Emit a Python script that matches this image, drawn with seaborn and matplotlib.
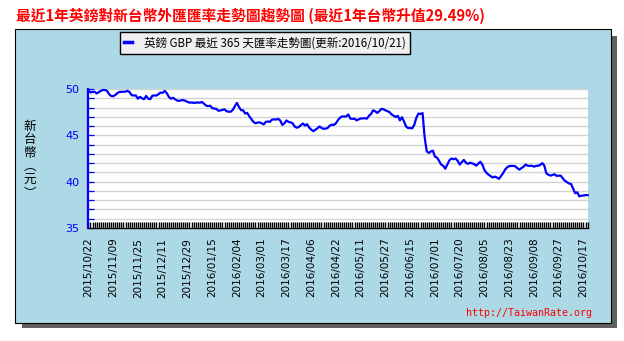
import matplotlib
matplotlib.use("Agg")
import matplotlib.pyplot as plt
from matplotlib.patches import Rectangle
from matplotlib.ticker import FixedLocator
from matplotlib.font_manager import FontProperties
import pandas as pd
import seaborn as sns

# ---- chart text ----
title = "最近1年英鎊對新台幣外匯匯率走勢圖趨勢圖 (最近1年台幣升值29.49%)"
legend_label = "英鎊 GBP 最近 365 天匯率走勢圖(更新:2016/10/21)"
y_title = "新\n台\n幣\n︵\n元\n︶"
site = "http://TaiwanRate.org"

# ---- x axis: one label every 12 trading days ----
date_labels = [
    "2015/10/22", "2015/11/09", "2015/11/25", "2015/12/11", "2015/12/29",
    "2016/01/15", "2016/02/04", "2016/03/01", "2016/03/17", "2016/04/06",
    "2016/04/22", "2016/05/11", "2016/05/27", "2016/06/15", "2016/07/01",
    "2016/07/20", "2016/08/05", "2016/08/23", "2016/09/08", "2016/09/27",
    "2016/10/17",
]
label_step = 12

# ---- y axis ----
y_major = [35, 40, 45, 50]
y_minor = list(range(35, 51))

# ---- GBP/TWD daily rate ----
rates = [
    49.90, 49.62, 49.68, 49.70, 49.52, 49.65, 49.80, 49.90, 49.88, 49.82,
    49.45, 49.25, 49.22, 49.35, 49.55, 49.68, 49.70, 49.70, 49.72, 49.80,
    49.65, 49.32, 49.30, 49.30, 48.95, 49.15, 49.00, 48.90, 49.25, 48.95,
    48.90, 49.28, 49.30, 49.30, 49.45, 49.62, 49.58, 49.80, 49.55, 49.15,
    48.95, 49.05, 48.90, 48.75, 48.72, 48.78, 48.80, 48.72, 48.62, 48.52,
    48.55, 48.50, 48.52, 48.55, 48.52, 48.60, 48.42, 48.22, 48.15, 48.20,
    47.95, 47.88, 47.85, 47.65, 47.68, 47.75, 47.80, 47.60, 47.55, 47.55,
    47.75, 48.15, 48.50, 48.05, 47.72, 47.70, 47.35, 47.42, 47.05, 46.75,
    46.45, 46.30, 46.38, 46.40, 46.30, 46.18, 46.45, 46.50, 46.45, 46.70,
    46.72, 46.70, 46.78, 46.60, 46.12, 46.30, 46.60, 46.45, 46.40, 46.30,
    45.95, 45.82, 45.90, 46.10, 46.28, 46.05, 46.20, 45.85, 45.62, 45.45,
    45.60, 45.75, 45.95, 45.80, 45.70, 45.72, 45.80, 46.05, 46.15, 46.12,
    46.30, 46.65, 46.90, 47.05, 47.02, 47.05, 47.25, 46.80, 46.78, 46.80,
    46.62, 46.72, 46.82, 46.82, 46.85, 46.80, 47.10, 47.30, 47.70, 47.60,
    47.42, 47.60, 47.85, 47.82, 47.70, 47.60, 47.50, 47.25, 47.12, 46.98,
    47.10, 46.62, 46.95, 46.50, 45.95, 45.78, 45.80, 45.75, 46.15, 46.90,
    47.35, 47.30, 47.40, 44.80, 43.30, 43.10, 43.25, 43.35, 42.70, 42.60,
    42.25, 41.85, 41.72, 41.40, 41.85, 42.30, 42.50, 42.42, 42.50, 42.25,
    41.85, 42.10, 42.35, 42.05, 41.92, 42.05, 41.98, 41.90, 41.72, 41.95,
    42.15, 41.85, 41.25, 40.95, 40.75, 40.60, 40.45, 40.55, 40.45, 40.30,
    40.60, 40.90, 41.30, 41.55, 41.68, 41.70, 41.70, 41.65, 41.45, 41.30,
    41.48, 41.62, 41.85, 41.72, 41.70, 41.72, 41.62, 41.70, 41.72, 41.80,
    42.00, 41.75, 40.90, 40.75, 40.65, 40.72, 40.80, 40.62, 40.65, 40.65,
    40.35, 40.10, 39.95, 39.80, 39.75, 39.25, 38.75, 38.85, 38.42, 38.48,
    38.50, 38.55, 38.55,
]

df = pd.DataFrame({"day": range(len(rates)), "rate": rates})

CJK = ["Noto Sans CJK TC", "DejaVu Sans"]
W, H = 624, 341


def fig_rect(x0, y0, x1, y1):
    """Pixel box (top-left origin) -> figure-fraction rectangle args."""
    return (x0 / W, 1 - y1 / H), (x1 - x0) / W, (y1 - y0) / H


fig = plt.figure(figsize=(W / 100, H / 100), dpi=100)
fig.patch.set_facecolor("white")

# drop shadow and light-blue panel, kept behind the axes
xy, w, h = fig_rect(22, 36, 617, 328)
fig.patches.append(Rectangle(xy, w, h, transform=fig.transFigure,
                             facecolor="#606060", edgecolor="none", zorder=-2))
xy, w, h = fig_rect(15, 29, 611, 323)
fig.patches.append(Rectangle(xy, w, h, transform=fig.transFigure,
                             facecolor="#ADD8E6", edgecolor="black",
                             linewidth=0.8, zorder=-1))

ax = fig.add_axes([88 / W, 1 - 228 / H, 500 / W, 139 / H])
ax.set_zorder(1)
ax.set_facecolor("white")

sns.lineplot(data=df, x="day", y="rate", ax=ax, color="#0000FF",
             linewidth=1.6, label=legend_label, clip_on=False, zorder=3)

# y axis
ax.set_ylim(y_major[0], y_major[-1])
ax.set_yticks(y_major)
ax.yaxis.set_minor_locator(FixedLocator(y_minor))
ax.grid(axis="y", which="both", color="#D3D3D3", linewidth=1.0)
ax.tick_params(axis="y", which="both", direction="in", length=4, width=0.9,
               color="#0000FF", labelcolor="#0000FF", labelsize=8, pad=6)

# x axis: a small comb tick for every trading day
ax.set_xlim(-0.2, len(rates) - 0.8)
ticks = list(range(0, len(date_labels) * label_step, label_step))
ax.set_xticks(ticks)
ax.set_xticklabels(date_labels, rotation=90, fontsize=7.5)
ax.xaxis.set_minor_locator(FixedLocator(list(df["day"])))
ax.tick_params(axis="x", which="both", direction="in", length=4.5, width=1.0,
               color="black", pad=7)
ax.set_xlabel("")
ax.set_ylabel("")

for side in ("top", "right"):
    ax.spines[side].set_visible(False)
ax.spines["left"].set_color("#0000FF")
ax.spines["left"].set_linewidth(1.6)
ax.spines["bottom"].set_color("black")
ax.spines["bottom"].set_linewidth(1.0)

# legend box above the plot
handles, labels = ax.get_legend_handles_labels()
ax.get_legend().remove()
leg = fig.legend(handles, labels, loc="center",
                 bbox_to_anchor=(265 / W, 1 - 43 / H),
                 frameon=True, fancybox=False, edgecolor="black",
                 facecolor="#F0F0F0", framealpha=1, handlelength=0.7,
                 handletextpad=1.0, borderpad=0.4,
                 prop=FontProperties(family=CJK, size=8.3))
leg.get_frame().set_linewidth(1.0)
for ln in leg.get_lines():
    ln.set_linewidth(2.5)

# texts
fig.text(16 / W, 1 - 16 / H, title, color="#FF0000", fontsize=10.6,
         va="center", ha="left", family=CJK, weight="bold")
fig.text(30 / W, 1 - 160 / H, y_title, ha="center", va="center",
         fontsize=9, family=CJK, linespacing=1.05)
fig.text(592 / W, 1 - 313 / H, site, ha="right", va="center",
         color="#FF0000", family="DejaVu Sans Mono", fontsize=7.2)

fig.savefig("out.png", dpi=100)
